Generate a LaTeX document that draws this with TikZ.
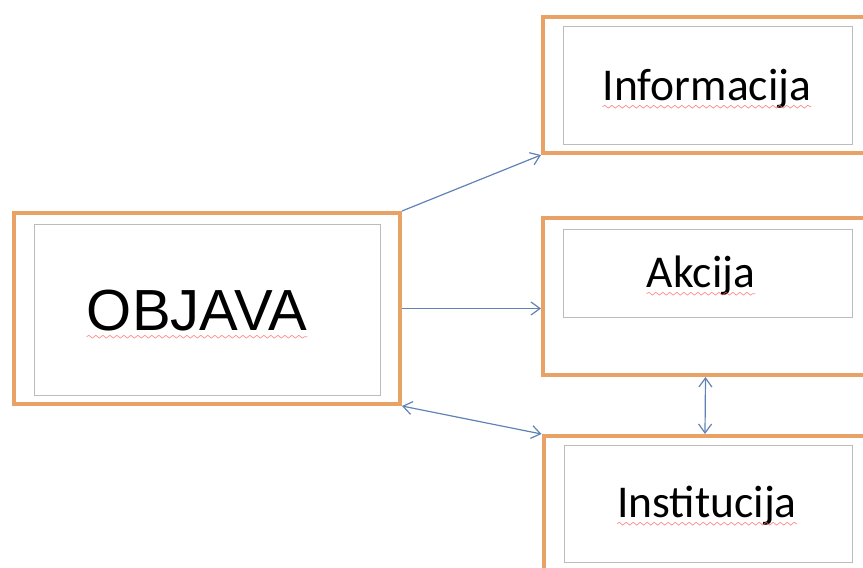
\documentclass[tikz,border=0pt]{standalone}
\usepackage{fontspec}
\setmainfont{Carlito}
\newfontfamily\arialfont{Liberation Sans}
\usetikzlibrary{arrows.meta,decorations.pathmorphing}
\definecolor{boxorange}{RGB}{232,162,102}
\definecolor{boxgray}{RGB}{188,188,188}
\definecolor{linkblue}{RGB}{96,130,182}

\begin{document}
\begin{tikzpicture}[x=1pt, y=-1pt,
  outerbox/.style={draw=boxorange, line width=4pt, rectangle},
  innerbox/.style={draw=boxgray, line width=1pt, rectangle},
  label/.style={font=\fontsize{45.5}{48}\selectfont, text height=29pt, text depth=0pt, inner sep=0pt},
  link/.style={draw=linkblue, line width=1.2pt, -{Straight Barb[length=9pt,width=13pt]}},
  biglink/.style={link, {Straight Barb[length=9pt,width=13pt]}-{Straight Barb[length=9pt,width=13pt]}},
  squiggle/.style={draw=red!60, opacity=0.75, line width=0.7pt, decorate, decoration={snake, amplitude=1.4pt, segment length=7pt}}]
  \useasboundingbox (0,0) rectangle (863,568);
  % left block
  \node[outerbox, minimum width=386pt, minimum height=191pt] (objava) at (207,308.5) {};
  \node[innerbox, minimum width=346pt, minimum height=171pt] (objavaIn) at (207,309.5) {};
  \node[label, font=\arialfont\fontsize{58}{62}\selectfont, text height=41pt] (objavaTxt) at (197,310) {OBJAVA};
  % right blocks
  \node[outerbox, minimum width=329pt, minimum height=136pt] (info) at (707.5,85) {};
  \node[innerbox, minimum width=289pt, minimum height=118pt] (infoIn) at (707.5,85) {};
  \node[label] (infoTxt) at (707,86) {Informacija};
  \node[outerbox, minimum width=329pt, minimum height=157pt] (akcija) at (707.5,296.5) {};
  \node[innerbox, minimum width=289pt, minimum height=88pt] (akcijaIn) at (707.5,273) {};
  \node[label] (akcijaTxt) at (701,273) {Akcija};
  \node[outerbox, minimum width=329pt, minimum height=136pt] (inst) at (708,504) {};
  \node[innerbox, minimum width=288pt, minimum height=117pt] (instIn) at (708,503.5) {};
  \node[label] (instTxt) at (707,503) {Institucija};
  % spelling marks
  \foreach \t in {objavaTxt,infoTxt,akcijaTxt,instTxt}
    \draw[squiggle] ([yshift=-6pt]\t.south west) -- ([yshift=-6pt]\t.south east);
  % connectors
  \draw[link] (objava.north east) -- (info.south west);
  \draw[link] (objava.east) -- (objava.east -| akcija.west);
  \draw[biglink] (objava.south east) -- (inst.north west);
  \draw[biglink] ([xshift=-2pt]akcija.south) -- ([xshift=-3pt]inst.north);
\end{tikzpicture}
\end{document}
